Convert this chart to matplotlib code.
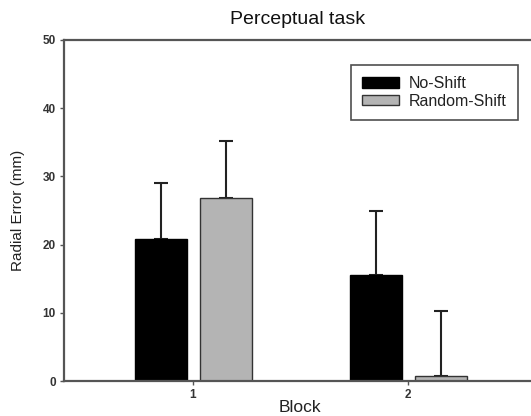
import matplotlib
matplotlib.use("Agg")
import matplotlib.pyplot as plt
import numpy as np

plt.rcParams['font.family'] = ['Liberation Sans', 'DejaVu Sans']

blocks = ["1", "2"]
series_names = ["No-Shift", "Random-Shift"]
no_shift = [20.8, 15.5]
no_shift_err = [8.3, 9.4]
random_shift = [26.9, 0.8]
random_shift_err = [8.3, 9.5]
y_ticks = [0, 10, 20, 30, 40, 50]

W, H = 531, 416
fig = plt.figure(figsize=(W / 100, H / 100), dpi=100)
ax_left, ax_right = 64.3, 545
ax_top, ax_bottom = 40, 381
ax = fig.add_axes([ax_left / W, (H - ax_bottom) / H,
                   (ax_right - ax_left) / W, (ax_bottom - ax_top) / H])

x = np.arange(1, len(blocks) + 1)
bw = 0.245
spine_col = '#555555'
txt_col = '#222222'
ax.bar(x - 0.147, no_shift, bw, color='black', edgecolor='black', linewidth=1,
       label=series_names[0], zorder=2)
ax.errorbar(x - 0.147, no_shift, yerr=[np.zeros(len(x)), no_shift_err], fmt='none',
            ecolor='#222222', elinewidth=1.5, capsize=5, capthick=1.5, zorder=1)
ax.bar(x + 0.155, random_shift, bw, color='#b4b4b4', edgecolor='#333333', linewidth=1,
       label=series_names[1], zorder=2)
ax.errorbar(x + 0.155, random_shift, yerr=[np.zeros(len(x)), random_shift_err], fmt='none',
            ecolor='#222222', elinewidth=1.5, capsize=5, capthick=1.5, zorder=1)

px_per_unit = 215.0
ax.set_xlim(1 - (192.7 - ax_left) / px_per_unit, 1 + (ax_right - 192.7) / px_per_unit)
ax.set_ylim(0, 50)
ax.set_yticks(y_ticks)
ax.set_yticklabels([str(t) for t in y_ticks], fontsize=8.5, fontweight='bold', color='#333333')
ax.set_xticks(x)
ax.set_xticklabels(blocks, fontsize=8.5, fontweight='bold', color='#333333')
ax.tick_params(axis='both', direction='out', length=3, width=1, color=spine_col, pad=3)
for s in ax.spines.values():
    s.set_color(spine_col)
    s.set_linewidth(1.6)
ax.spines['right'].set_visible(False)

ax.set_ylabel("Radial Error (mm)", fontsize=11, color=txt_col)
ax.yaxis.set_label_coords(-(ax_left - 18) / (ax_right - ax_left), 0.5)
ax.set_xlabel("Block", fontsize=12.5, color=txt_col)
ax.xaxis.set_label_coords((300 - ax_left) / (ax_right - ax_left), -(408 - ax_bottom) / (ax_bottom - ax_top))
ax.xaxis.label.set_va('center')
ax.yaxis.label.set_va('center')
fig.text(298 / W, 1 - 19 / H, "Perceptual task", ha='center', va='center', fontsize=14,
         color='#111111')

leg = ax.legend(loc='upper left', bbox_to_anchor=((351 - ax_left) / (ax_right - ax_left),
                                                    1 - (65 - ax_top) / (ax_bottom - ax_top)),
                fontsize=11.5, frameon=True, fancybox=False, borderpad=0.7,
                handlelength=2.3, handleheight=0.6, labelspacing=0.15, handletextpad=0.6,
                borderaxespad=0)
leg.get_frame().set_edgecolor('#222222')
leg.get_frame().set_linewidth(1.2)
for t in leg.get_texts():
    t.set_color(txt_col)

fig.savefig("out.png", dpi=100)
